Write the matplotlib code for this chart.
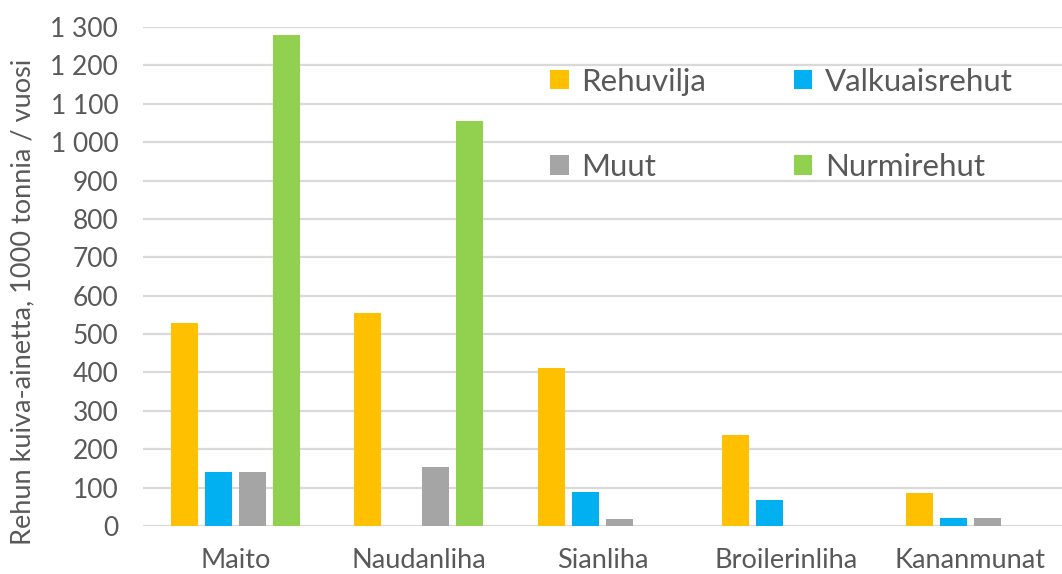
import matplotlib
matplotlib.use("Agg")
import matplotlib.pyplot as plt
import matplotlib.ticker as mticker
import numpy as np

categories = ['Maito', 'Naudanliha', 'Sianliha', 'Broilerinliha', 'Kananmunat']
series_names = ['Rehuvilja', 'Valkuaisrehut', 'Muut', 'Nurmirehut']
rehuvilja = [530, 555, 412, 237, 87]
valkuaisrehut = [141, 0, 89, 67, 20]
muut = [141, 153, 18, 0, 20]
nurmirehut = [1278, 1056, 0, 0, 0]
colors = ['#FFC000', '#00B0F0', '#A5A5A5', '#92D050']

plt.rcParams['font.family'] = ['Lato', 'DejaVu Sans']
textColor = '#595959'

fig = plt.figure(figsize=(10.62, 5.74), dpi=100)
ax = fig.add_axes([0.135, 0.0836, 0.865, 0.8694])

x = np.arange(len(categories))
barWidth = 0.147
step = 0.185
allSeries = [rehuvilja, valkuaisrehut, muut, nurmirehut]
bars = []
for i, vals in enumerate(allSeries):
    b = ax.bar(x + (i - 1.5) * step, vals, width=barWidth, color=colors[i],
               label=series_names[i], zorder=3)
    bars.append(b)

ax.set_xlim(-0.5, len(categories) - 0.5)
ax.set_ylim(0, 1300)
ax.set_yticks(np.arange(0, 1301, 100))
ax.yaxis.set_major_formatter(mticker.FuncFormatter(
    lambda v, p: '{:,}'.format(int(v)).replace(',', ' ')))
ax.set_xticks(x)
ax.set_xticklabels(categories)
ax.grid(axis='y', color='#D9D9D9', linewidth=1.6, zorder=0)
for s in ax.spines.values():
    s.set_visible(False)
ax.tick_params(axis='both', length=0, colors=textColor)
ax.tick_params(axis='x', pad=16, labelsize=19.5)
ax.tick_params(axis='y', pad=18, labelsize=19)
ax.set_ylabel('Rehun kuiva-ainetta, 1000 tonnia / vuosi', fontsize=19.5,
              color=textColor)
ax.yaxis.set_label_coords(-0.118, 0.45)

# row-major order like the original legend
order = [0, 2, 1, 3]
leg = ax.legend([bars[i] for i in order], [series_names[i] for i in order],
                ncol=2, loc='upper left', bbox_to_anchor=(0.412, 0.975),
                frameon=False, fontsize=22.5, handlelength=0.6, handleheight=0.6,
                handletextpad=0.4, columnspacing=2.8, labelspacing=1.85)
for t in leg.get_texts():
    t.set_color(textColor)

plt.savefig('out.png', dpi=100)
